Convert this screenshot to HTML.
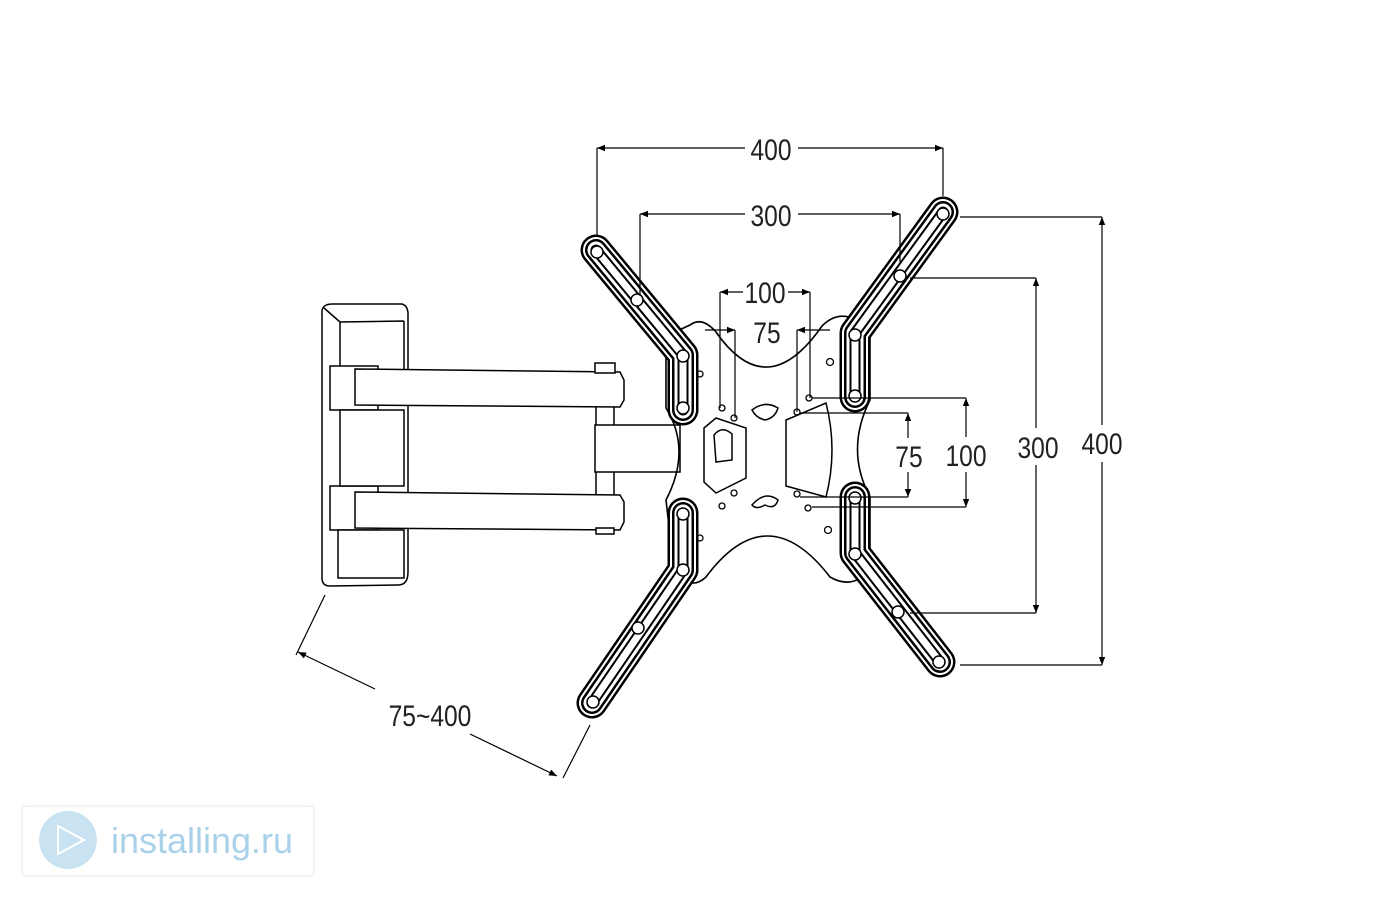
<!DOCTYPE html>
<html><head><meta charset="utf-8"><style>
html,body{margin:0;padding:0;background:#fff}
svg{display:block}
text{font-family:"Liberation Sans",sans-serif}
</style></head><body>
<svg width="1400" height="900" viewBox="0 0 1400 900" xmlns="http://www.w3.org/2000/svg">
<defs>
<marker id="a" viewBox="0 0 10 10" refX="10" refY="5" markerWidth="14" markerHeight="8" orient="auto-start-reverse" markerUnits="userSpaceOnUse"><path d="M0,1 L10,5 L0,9 Z" fill="#000"/></marker>
</defs>
<!-- plate -->
<path d="M690,325 Q702,316 716,332 Q767,405 822,326 Q836,312 852,318 L870,330 L870,400 Q845,450 870,497 L870,570 Q852,590 830,577 Q767,495 706,577 Q690,592 674,570 L666,500 Q692,450 666,408 L666,336 Z" fill="#fff" stroke="#000" stroke-width="1.6"/>
<g fill="none" stroke="#000" stroke-width="1.5">
<path d="M786,420 L826,403 Q838,450 826,497 L786,486 Z"/>
<path d="M704,428 L716,418 L746,428 L746,478 L716,493 L704,482 Z"/>
<path d="M714,435 Q722,425 732,434 L732,460 L716,462 Z"/>
<path d="M752,410 Q765,400 778,408 Q775,418 765,420 Q756,418 752,410 Z"/>
<path d="M752,505 Q765,490 778,500 Q775,510 765,505 Q756,510 752,505 Z"/>
<path d="M595,425 L680,425 L680,472 L595,472 Z"/>
</g>
<g fill="none" stroke="#000" stroke-width="1.3">
<circle cx="722" cy="408" r="3"/><circle cx="734" cy="418" r="3"/><circle cx="797" cy="412" r="3"/><circle cx="809" cy="398" r="3"/>
<circle cx="797" cy="494" r="3"/><circle cx="808" cy="508" r="3"/><circle cx="722" cy="506" r="3"/><circle cx="734" cy="493" r="3"/>
<circle cx="830" cy="362" r="3.5"/><circle cx="828" cy="530" r="3.5"/><circle cx="700" cy="374" r="3"/><circle cx="700" cy="538" r="3"/>
</g>
<!-- wall plate -->
<g fill="#fff" stroke="#000" stroke-width="1.5">
<path d="M322,310 Q324,304 332,304 L402,304 Q408,306 408,314 L408,572 Q408,585 398,585 L330,586 Q322,586 322,578 Z"/>
<path d="M340,322 L404,321 M340,322 L340,370 M340,322 L324,308 M404,321 L404,370"/>
<rect x="330" y="366" width="48" height="44"/>
<rect x="330" y="486" width="48" height="44"/>
<path d="M340,410 L404,410 L404,486 L340,486 Z"/>
<path d="M338,530 L404,530 L404,578 L338,578 Z"/>
<path d="M355,369 L620,372 L624,380 L624,400 L620,407 L355,405 Z"/>
<path d="M355,492 L620,495 L624,502 L624,522 L620,530 L355,528 Z"/>
<rect x="595" y="363" width="20" height="10"/>
<rect x="596" y="528" width="18" height="6"/>
<path d="M596,407 L596,425 M614,407 L614,425 M596,472 L596,495 M614,472 L614,495"/>
</g>
<!-- arms -->
<g fill="none" stroke-linecap="round" stroke-linejoin="round">
<g id="arms">
<polyline points="596,250 683,355 683,410"/>
<polyline points="943,212 855,333 855,397"/>
<polyline points="683,513 683,570 592,703"/>
<polyline points="855,497 855,553 940,662"/>
</g>
</g>
<g fill="none" stroke-linecap="round" stroke-linejoin="round">
<use href="#arms" stroke="#000" stroke-width="31"/>
<use href="#arms" stroke="#fff" stroke-width="26"/>
<use href="#arms" stroke="#000" stroke-width="22"/>
<use href="#arms" stroke="#fff" stroke-width="17"/>
<use href="#arms" stroke="#000" stroke-width="11"/>
<use href="#arms" stroke="#fff" stroke-width="7"/>
</g>
<g fill="#fff" stroke="#000" stroke-width="1.5">
<circle cx="597" cy="252" r="6"/><circle cx="637" cy="300" r="6"/><circle cx="683" cy="356" r="6"/><circle cx="683" cy="408" r="6"/>
<circle cx="943" cy="214" r="6"/><circle cx="900" cy="276" r="6"/><circle cx="855" cy="335" r="6"/><circle cx="855" cy="396" r="6"/>
<circle cx="683" cy="514" r="6"/><circle cx="683" cy="570" r="6"/><circle cx="638" cy="628" r="6"/><circle cx="593" cy="702" r="6"/>
<circle cx="855" cy="498" r="6"/><circle cx="855" cy="554" r="6"/><circle cx="898" cy="612" r="6"/><circle cx="939" cy="662" r="6"/>
</g>
<!-- dimension lines -->
<g stroke="#000" stroke-width="1.2" fill="none">
<path d="M597,148 L597,236 M943,148 L943,196"/>
<line x1="597" y1="148" x2="745" y2="148" marker-start="url(#a)"/>
<line x1="798" y1="148" x2="943" y2="148" marker-end="url(#a)"/>
<path d="M640,214 L640,296 M900,214 L900,262"/>
<line x1="640" y1="214" x2="745" y2="214" marker-start="url(#a)"/>
<line x1="798" y1="214" x2="900" y2="214" marker-end="url(#a)"/>
<path d="M720,292 L720,408 M810,292 L810,398 M735,330 L735,418 M797,330 L797,412"/>
<line x1="720" y1="292" x2="743" y2="292" marker-start="url(#a)"/>
<line x1="788" y1="292" x2="810" y2="292" marker-end="url(#a)"/>
<line x1="705" y1="330" x2="735" y2="330" marker-end="url(#a)"/>
<line x1="830" y1="330" x2="797" y2="330" marker-end="url(#a)"/>
<path d="M960,217 L1102,217 M960,665 L1102,665"/>
<line x1="1102" y1="217" x2="1102" y2="425" marker-start="url(#a)"/>
<line x1="1102" y1="462" x2="1102" y2="665" marker-end="url(#a)"/>
<path d="M910,278 L1036,278 M910,613 L1036,613"/>
<line x1="1036" y1="278" x2="1036" y2="428" marker-start="url(#a)"/>
<line x1="1036" y1="465" x2="1036" y2="613" marker-end="url(#a)"/>
<path d="M812,398 L966,398 M812,507 L966,507"/>
<line x1="966" y1="398" x2="966" y2="437" marker-start="url(#a)"/>
<line x1="966" y1="472" x2="966" y2="507" marker-end="url(#a)"/>
<path d="M800,413 L908,413 M800,497 L908,497"/>
<line x1="908" y1="413" x2="908" y2="438" marker-start="url(#a)"/>
<line x1="908" y1="472" x2="908" y2="497" marker-end="url(#a)"/>
<path d="M325,595 L296,655 M590,725 L563,778"/>
<line x1="298" y1="652" x2="375" y2="689" marker-start="url(#a)"/>
<line x1="470" y1="734" x2="557" y2="776" marker-end="url(#a)"/>
</g>
<g font-size="30" fill="#222" text-anchor="middle">
<text x="771" y="160" transform="translate(771,0) scale(0.82,1) translate(-771,0)">400</text>
<text x="771" y="226" transform="translate(771,0) scale(0.82,1) translate(-771,0)">300</text>
<text x="765" y="303" transform="translate(765,0) scale(0.82,1) translate(-765,0)">100</text>
<text x="767" y="343" transform="translate(767,0) scale(0.82,1) translate(-767,0)">75</text>
<text x="1102" y="454" transform="translate(1102,0) scale(0.82,1) translate(-1102,0)">400</text>
<text x="1038" y="458" transform="translate(1038,0) scale(0.82,1) translate(-1038,0)">300</text>
<text x="966" y="466" transform="translate(966,0) scale(0.82,1) translate(-966,0)">100</text>
<text x="909" y="467" transform="translate(909,0) scale(0.82,1) translate(-909,0)">75</text>
<text x="430" y="726" transform="translate(430,0) scale(0.82,1) translate(-430,0)">75~400</text>
</g>
<!-- logo -->
<rect x="22" y="806" width="292" height="70" rx="3" fill="#fff" stroke="#f0f0f0" stroke-width="1.5"/>
<circle cx="68" cy="840" r="29" fill="#c9e3f2"/>
<path d="M58,826 L84,840 L58,854 Z" fill="none" stroke="#fff" stroke-width="2"/>
<text x="111" y="853" font-size="36" fill="#a9d2ea" textLength="182" lengthAdjust="spacingAndGlyphs">installing.ru</text>
</svg>
</body></html>
